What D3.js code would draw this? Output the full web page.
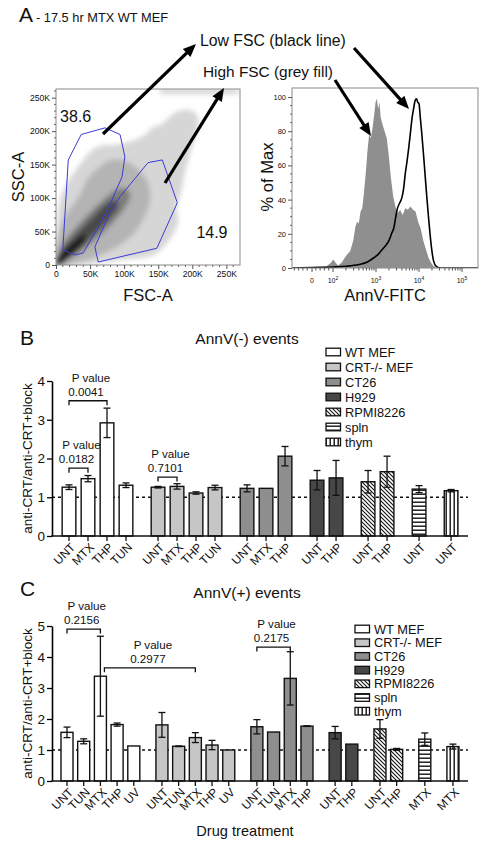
<!DOCTYPE html>
<html><head><meta charset="utf-8">
<script src="https://cdn.jsdelivr.net/npm/d3@7"></script>
<style>body{margin:0;background:#fff} text{font-family:"Liberation Sans",Arial,sans-serif;fill:#111}</style>
</head><body><script>
// ---------------- DATA ----------------
// Panel A – flow density (SSC-A vs FSC-A, values in K), layered density contours
const densityLayers = [
  [[0,0],[1.5,52],[6,97],[15,120],[35,150],[53,172],[65,178],[91,180],[116,187],[131,195],[141,205],[156,211],[165,220],[175,228],[190,232],[204,228],[209,214],[203,187],[194,157],[187,127],[182,102],[177,90],[179,64],[168,40],[153,22],[138,13],[94,7],[65,3],[35,0]],
  [[0,0],[3,45],[15,75],[35,105],[47,130],[62,145],[79,157],[97,157],[112,150],[124,139],[135,124],[138,97],[131,75],[116,49],[94,30],[65,15],[35,4]],
  [[0,0],[9,30],[28,55],[50,79],[69,97],[87,112],[101,115],[109,105],[101,85],[84,64],[65,45],[43,25],[21,10]],
  [[0,0],[6,19],[21,37],[38,55],[57,75],[76,93],[88,97],[91,87],[79,70],[59,49],[38,30],[18,10]],
  [[0,0],[3,13],[15,25],[29,37],[41,45],[44,37],[32,22],[18,10],[9,1.5]]
];
const saturatedBand = [[153,256],[268,256],[268,263],[153,263]];
const gateLow = [[10,23],[18,157],[37,195],[72,205],[94,195],[101,162],[97,132],[82,97],[62,57],[40,18],[28,15]];
const gateHigh = [[57,27],[62,4.5],[148,25],[178,93],[156,157],[135,153],[94,102],[79,78]];
const gateLabels = ["38.6","14.9"];
const gateLabelPos = [[6,213],[206,40]];
const flowTicks = [0,50,100,150,200,250];
const flowTickLabels = ["0","50K","100K","150K","200K","250K"];

// Panel A – histogram (AnnV-FITC, log10 units vs % of Max)
const hiLog = [1.05,1.6,1.85,1.95,2.01,2.06,2.12,2.2,2.3,2.4,2.47,2.52,2.56,2.6,2.64,2.68,2.72,2.76,2.8,2.84,2.88,2.92,2.96,2.99,3.02,3.05,3.08,3.11,3.15,3.2,3.25,3.3,3.35,3.4,3.45,3.5,3.56,3.62,3.68,3.74,3.8,3.86,3.92,3.98,4.04,4.1,4.16,4.22,4.28,4.34,4.4,5.37];
const hiPct = [0,0,1,3,5,3,1.5,3,7,10,16,24,27,26,33,35,44,55,68,78,76,82,90,97,99,93,97,88,84,80,76,65,52,42,36,32,34,31,35,34,36,34,33,27,23,16,11,6,3,1,0,0];
const loLog = [1.05,1.5,2.0,2.3,2.6,2.8,2.95,3.05,3.15,3.22,3.3,3.36,3.42,3.46,3.5,3.55,3.6,3.64,3.68,3.72,3.76,3.8,3.84,3.88,3.91,3.94,3.97,4.0,4.03,4.06,4.1,4.14,4.18,4.22,4.26,4.3,4.34,4.4,4.5,5.37];
const loPct = [0,0.3,0.6,1,2,3.5,6,8,11,13,16,20,24,30,35,38,41,46,55,62,70,79,88,94,98,99,97,96,88,80,68,55,42,30,19,10,4,1,0,0];
const histXTicks = [1.512,2,3,4,5];
const histXBase = ["0","10","10","10","10"];
const histXExp = ["","2","3","4","5"];
const histYTicks = [0,20,40,60,80,100];

// Panels B & C
const cellLines = ["WT MEF","CRT-/- MEF","CT26","H929","RPMI8226","spln","thym"];
const bTreat = [["UNT","MTX","THP","TUN"],["UNT","MTX","THP","TUN"],["UNT","MTX","THP"],["UNT","THP"],["UNT","THP"],["UNT"],["UNT"]];
const bMean  = [[1.26,1.48,2.92,1.31],[1.26,1.28,1.11,1.25],[1.23,1.23,2.06],[1.44,1.50],[1.40,1.66],[1.21],[1.17]];
const bErr   = [[0.06,0.08,0.38,0.06],[0.02,0.07,0.03,0.06],[0.09,0,0.25],[0.25,0.45],[0.29,0.40],[0.09],[0.03]];
const bBrackets = [
  {a:[0,0], b:[0,2], y:3.49, p:"0.0041"},
  {a:[0,0], b:[0,1], y:1.75, p:"0.0182"},
  {a:[1,0], b:[1,1], y:1.52, p:"0.7101"}
];
const cTreat = [["UNT","TUN","MTX","THP","UV"],["UNT","TUN","MTX","THP","UV"],["UNT","TUN","MTX","THP"],["UNT","THP"],["UNT","THP"],["MTX"],["MTX"]];
const cMean  = [[1.57,1.28,3.38,1.82,1.13],[1.81,1.12,1.40,1.16,1.00],[1.75,1.58,3.31,1.77],[1.56,1.19],[1.68,1.02],[1.35],[1.11]];
const cErr   = [[0.17,0.08,1.29,0.05,0],[0.40,0.01,0.16,0.15,0],[0.23,0,0.86,0.01],[0.20,0],[0.30,0.03],[0.20],[0.08]];
const cBrackets = [
  {a:[0,0], b:[0,2], y:4.90, p:"0.2156"},
  {a:[0,2], b:[1,2], y:3.65, p:"0.2977", aOff:4},
  {a:[2,0], b:[2,2], y:4.32, p:"0.2175"}
];

// ---------------- RENDER ----------------
const W=486,H=845;
const svg=d3.select("body").append("svg").attr("width",W).attr("height",H);
const defs=svg.append("defs");
defs.append("filter").attr("id","blur").attr("x","-20%").attr("y","-20%").attr("width","140%").attr("height","140%")
  .append("feGaussianBlur").attr("stdDeviation",2.6);
const pd=defs.append("pattern").attr("id","diag").attr("patternUnits","userSpaceOnUse").attr("width",4).attr("height",4);
pd.append("rect").attr("width",4).attr("height",4).attr("fill","#fff");
pd.append("path").attr("d","M-1,-1L5,5M-1,3L1,5M3,-1L5,1").attr("stroke","#111").attr("stroke-width",1.1);
const ph=defs.append("pattern").attr("id","hstr").attr("patternUnits","userSpaceOnUse").attr("width",4).attr("height",4);
ph.append("rect").attr("width",4).attr("height",4).attr("fill","#fff");
ph.append("rect").attr("y",1.5).attr("width",4).attr("height",1.4).attr("fill","#111");
const pv=defs.append("pattern").attr("id","vstr").attr("patternUnits","userSpaceOnUse").attr("width",4).attr("height",4);
pv.append("rect").attr("width",4).attr("height",4).attr("fill","#fff");
pv.append("rect").attr("x",1.5).attr("width",1.4).attr("height",4).attr("fill","#111");
const cellFill=["#ffffff","#c6c6c6","#8e8e8e","#474747","url(#diag)","url(#hstr)","url(#vstr)"];

// Title A
const tA=svg.append("text").attr("x",19).attr("y",22);
tA.append("tspan").attr("font-size",21).text("A");
tA.append("tspan").attr("font-size",12.8).attr("dx",3).text("- 17.5 hr MTX WT MEF");

// ---- Flow plot ----
const fx=d3.scaleLinear().domain([0,270]).range([56,240]);
const fy=d3.scaleLinear().domain([0,263]).range([265,89]);
defs.append("clipPath").attr("id","fclip").append("rect").attr("x",56).attr("y",89).attr("width",184).attr("height",176);
const fg=svg.append("g").attr("clip-path","url(#fclip)");
const dens=fg.append("g").attr("filter","url(#blur)");
const shades=["#d6d6d6","#b4b4b4","#7d7d7d","#4a4a4a","#1a1a1a"];
const line=d3.line().x(d=>fx(d[0])).y(d=>fy(d[1])).curve(d3.curveCatmullRomClosed.alpha(0.5));
densityLayers.forEach((pts,i)=>dens.append("path").attr("d",line(pts)).attr("fill",shades[i]));
dens.append("path").attr("d",d3.line().x(d=>fx(d[0])).y(d=>fy(d[1]))(saturatedBand)+"Z").attr("fill","#cfcfcf");
const gl=d3.line().x(d=>fx(d[0])).y(d=>fy(d[1])).curve(d3.curveLinearClosed);
[gateLow,gateHigh].forEach(g=>fg.append("path").attr("d",gl(g)).attr("fill","none").attr("stroke","#3b3bd6").attr("stroke-width",1));
svg.append("rect").attr("x",56).attr("y",89).attr("width",184).attr("height",176).attr("fill","none").attr("stroke","#8a8a8a").attr("stroke-width",1);
gateLabels.forEach((t,i)=>svg.append("text").attr("x",fx(gateLabelPos[i][0])).attr("y",fy(gateLabelPos[i][1])).attr("font-size",16).text(t));
// axes
const fyAx=svg.append("g").attr("transform","translate(56,0)").call(d3.axisLeft(fy).tickValues(flowTicks).tickFormat((d,i)=>flowTickLabels[i]).tickSize(4).tickPadding(2));
const fxAx=svg.append("g").attr("transform","translate(0,265)").call(d3.axisBottom(fx).tickValues(flowTicks).tickFormat((d,i)=>flowTickLabels[i]).tickSize(4).tickPadding(2));
[fyAx,fxAx].forEach(a=>{a.select(".domain").remove();a.selectAll("text").attr("font-size",8.6).style("font-family","Liberation Sans, Arial").attr("fill","#222");a.selectAll("line").attr("stroke","#555");});
const minorF=d3.range(0,265,10).filter(v=>v%50!==0);
svg.append("g").selectAll("line").data(minorF).join("line").attr("x1",54).attr("x2",56).attr("y1",d=>fy(d)).attr("y2",d=>fy(d)).attr("stroke","#666");
svg.append("g").selectAll("line").data(minorF).join("line").attr("y1",265).attr("y2",267).attr("x1",d=>fx(d)).attr("x2",d=>fx(d)).attr("stroke","#666");
svg.append("text").attr("x",148).attr("y",301).attr("text-anchor","middle").attr("font-size",16.5).text("FSC-A");
svg.append("text").attr("transform","translate(24,177) rotate(-90)").attr("text-anchor","middle").attr("font-size",16.5).text("SSC-A");

// ---- Histogram ----
const hx=d3.scaleLinear().domain([2,5]).range([333,462]);
const hy=d3.scaleLinear().domain([0,100]).range([268,97]);
defs.append("clipPath").attr("id","hclip").append("rect").attr("x",292).attr("y",88).attr("width",186).attr("height",180);
const hg=svg.append("g").attr("clip-path","url(#hclip)");
const hiData=hiLog.map((v,i)=>[v,hiPct[i]]);
const loData=loLog.map((v,i)=>[v,loPct[i]]);
hg.append("path").attr("d",d3.area().x(d=>hx(d[0])).y0(hy(0)).y1(d=>hy(d[1])).curve(d3.curveLinear)(hiData)).attr("fill","#8f8f8f");
hg.append("path").attr("d",d3.line().x(d=>hx(d[0])).y(d=>hy(d[1])).curve(d3.curveMonotoneX)(loData)).attr("fill","none").attr("stroke","#000").attr("stroke-width",1.6);
svg.append("rect").attr("x",292).attr("y",88).attr("width",186).attr("height",180).attr("fill","none").attr("stroke","#8a8a8a");
const hyAx=svg.append("g").attr("transform","translate(292,0)").call(d3.axisLeft(hy).tickValues(histYTicks).tickSize(4).tickPadding(2));
hyAx.select(".domain").remove();hyAx.selectAll("text").attr("font-size",7.5).attr("fill","#333");hyAx.selectAll("line").attr("stroke","#555");
svg.append("g").selectAll("line").data(d3.range(0,101,5).filter(v=>v%20)).join("line").attr("x1",290).attr("x2",292).attr("y1",d=>hy(d)).attr("y2",d=>hy(d)).attr("stroke","#666");
const minorH=[];
[2,3,4].forEach(dd=>d3.range(2,10).forEach(k=>minorH.push(dd+Math.log10(k))));
[1.1,1.2,1.3,1.4,1.6,1.7,1.8,1.9].forEach(v=>minorH.push(v));
svg.append("g").selectAll("line").data(minorH).join("line").attr("x1",d=>hx(d)).attr("x2",d=>hx(d)).attr("y1",268).attr("y2",270.5).attr("stroke","#555");
svg.append("g").selectAll("line").data(histXTicks).join("line").attr("x1",d=>hx(d)).attr("x2",d=>hx(d)).attr("y1",268).attr("y2",272).attr("stroke","#555");
const hxl=svg.append("g").selectAll("text").data(histXTicks).join("text").attr("x",d=>hx(d)).attr("y",283).attr("text-anchor","middle").attr("font-size",7).attr("fill","#333");
hxl.append("tspan").text((d,i)=>histXBase[i]);
hxl.append("tspan").attr("dy",-3).attr("font-size",5).text((d,i)=>histXExp[i]);
svg.append("text").attr("x",385).attr("y",301).attr("text-anchor","middle").attr("font-size",16.5).text("AnnV-FITC");
svg.append("text").attr("transform","translate(273,177) rotate(-90)").attr("text-anchor","middle").attr("font-size",16.5).text("% of Max");

// annotations
svg.append("text").attr("x",200).attr("y",46).attr("font-size",15.8).text("Low FSC (black line)");
svg.append("text").attr("x",203).attr("y",77).attr("font-size",15.4).text("High FSC (grey fill)");
const arrows=[[[103,134],[196,44]],[[165,183],[224,88]],[[354,48],[409,109]],[[335,80],[371,136]]];
arrows.forEach(([s,e])=>{
  const ang=Math.atan2(e[1]-s[1],e[0]-s[0]);const L=13,Wd=5.5;
  const bx=e[0]-L*Math.cos(ang),by=e[1]-L*Math.sin(ang);
  svg.append("line").attr("x1",s[0]).attr("y1",s[1]).attr("x2",bx+2*Math.cos(ang)).attr("y2",by+2*Math.sin(ang)).attr("stroke","#000").attr("stroke-width",3.2);
  const px=-Math.sin(ang),py=Math.cos(ang);
  svg.append("path").attr("d",`M${e[0]},${e[1]}L${bx+Wd*px},${by+Wd*py}L${bx-Wd*px},${by-Wd*py}Z`).attr("fill","#000");
});

// ---- Bar panels ----
function barPanel(o){
  const g=svg.append("g");
  const items=[];let idx=0;
  o.treat.forEach((grp,gi)=>grp.forEach((t,j)=>{items.push({g:gi,j,t,m:o.mean[gi][j],e:o.err[gi][j],slot:idx+gi*0.685});idx++;}));
  const x=d3.scaleLinear().domain([0,1]).range([o.x0,o.x0+o.step]);
  const y=d3.scaleLinear().domain([0,o.ymax]).range([o.y0,o.ytop]);
  const bw=o.step*0.72;
  const pos=(gi,j)=>x(items.find(d=>d.g===gi&&d.j===j).slot);
  // dashed line
  g.append("line").attr("x1",52).attr("x2",468).attr("y1",y(1)).attr("y2",y(1)).attr("stroke","#111").attr("stroke-width",1.3).attr("stroke-dasharray","3,3");
  // bars
  g.selectAll("rect.bar").data(items).join("rect").attr("class","bar")
    .attr("x",d=>x(d.slot)-bw/2).attr("width",bw).attr("y",d=>y(d.m)).attr("height",d=>y(0)-y(d.m))
    .attr("fill",d=>cellFill[d.g]).attr("stroke","#111").attr("stroke-width",1.4);
  const eb=items.filter(d=>d.e>0);
  g.selectAll("line.eb").data(eb).join("line").attr("x1",d=>x(d.slot)).attr("x2",d=>x(d.slot)).attr("y1",d=>y(d.m-d.e)).attr("y2",d=>y(d.m+d.e)).attr("stroke","#111").attr("stroke-width",1.3);
  ["m","p"].forEach(s=>g.selectAll("line.cap"+s).data(eb).join("line").attr("x1",d=>x(d.slot)-3.5).attr("x2",d=>x(d.slot)+3.5)
    .attr("y1",d=>y(s==="m"?d.m-d.e:d.m+d.e)).attr("y2",d=>y(s==="m"?d.m-d.e:d.m+d.e)).attr("stroke","#111").attr("stroke-width",1.3));
  // axes
  const ya=g.append("g").attr("transform","translate(52,0)").call(d3.axisLeft(y).ticks(o.ymax).tickSize(5).tickPadding(2).tickSizeOuter(0));
  ya.selectAll("text").attr("font-size",13.5).style("font-family","Liberation Sans, Arial");
  ya.select(".domain").attr("stroke-width",1.6);ya.selectAll(".tick line").attr("stroke-width",1.3);
  g.append("line").attr("x1",51.2).attr("x2",468).attr("y1",o.y0).attr("y2",o.y0).attr("stroke","#111").attr("stroke-width",1.6);
  g.selectAll("line.xt").data(items).join("line").attr("x1",d=>x(d.slot)).attr("x2",d=>x(d.slot)).attr("y1",o.y0).attr("y2",o.y0+5).attr("stroke","#111").attr("stroke-width",1.3);
  g.selectAll("text.xl").data(items).join("text").attr("font-size",12).attr("text-anchor","end")
    .attr("transform",d=>`translate(${x(d.slot)+4},${o.y0+9}) rotate(-45)`).attr("dy","0.35em").text(d=>d.t);
  // y label
  g.append("text").attr("transform",`translate(32,${(o.y0+o.ytop)/2}) rotate(-90)`).attr("text-anchor","middle").attr("font-size",13.5).text("anti-CRT/anti-CRT+block");
  // brackets
  o.brackets.forEach(b=>{
    const xa=pos(b.a[0],b.a[1])+(b.aOff||0), xb=pos(b.b[0],b.b[1]), yy=y(b.y);
    g.append("path").attr("d",`M${xa},${yy+4.5}V${yy}H${xb}V${yy+4.5}`).attr("fill","none").attr("stroke","#111").attr("stroke-width",1.3);
    const cx=(xa+xb)/2;
    g.append("text").attr("x",cx+3).attr("y",yy-23).attr("dy","0.35em").attr("text-anchor","middle").attr("font-size",11.6).text("P value");
    g.append("text").attr("x",cx-2).attr("y",yy-9).attr("dy","0.35em").attr("text-anchor","middle").attr("font-size",11.6).text(b.p);
  });
  // legend
  cellLines.forEach((c,i)=>{
    const yy=o.ly+i*o.lstep;
    g.append("rect").attr("x",o.lx).attr("y",yy-3.8).attr("width",14.5).attr("height",7.6).attr("fill",cellFill[i]).attr("stroke","#111").attr("stroke-width",1.3);
    g.append("text").attr("x",o.lx+19).attr("y",yy).attr("dy","0.36em").attr("font-size",12.8).text(c);
  });
  // title
  g.append("text").attr("x",20).attr("y",o.labelY).attr("font-size",21).text(o.label);
  g.append("text").attr("x",247).attr("y",o.titleY).attr("text-anchor","middle").attr("font-size",15.5).text(o.title);
}
barPanel({treat:bTreat,mean:bMean,err:bErr,brackets:bBrackets,x0:69,step:19,ymax:4,y0:536,ytop:381,lx:326,ly:352,lstep:15,label:"B",labelY:345,title:"AnnV(-) events",titleY:344});
barPanel({treat:cTreat,mean:cMean,err:cErr,brackets:cBrackets,x0:67,step:16.7,ymax:5,y0:781,ytop:626,lx:355,ly:629,lstep:13.7,label:"C",labelY:596,title:"AnnV(+) events",titleY:598});
svg.append("text").attr("x",245).attr("y",836).attr("text-anchor","middle").attr("font-size",14.6).text("Drug treatment");
</script></body></html>
